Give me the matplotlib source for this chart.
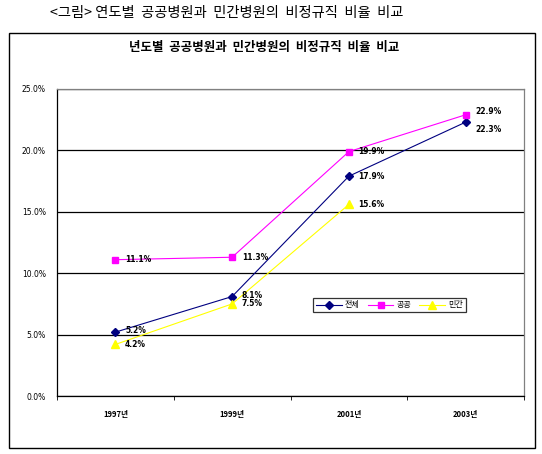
import matplotlib
matplotlib.use("Agg")
import matplotlib.pyplot as plt
from matplotlib.patches import Rectangle
import numpy as np

plt.rcParams["font.family"] = ["Noto Sans CJK KR", "DejaVu Sans"]

years = ["1997년", "1999년", "2001년", "2003년"]
total = [5.2, 8.1, 17.9, 22.3]
public = [11.1, 11.3, 19.9, 22.9]
private = [4.2, 7.5, 15.6]
series_names = ["전체", "공공", "민간"]

fig = plt.figure(figsize=(5.42, 4.54), dpi=100)

# outer caption and frame
fig.text(0.092, 0.972, "<그림> 연도별  공공병원과  민간병원의  비정규직  비율  비교",
         fontsize=10.3, ha="left", va="center")
fig.patches.append(Rectangle((9 / 542, 1 - 448 / 454), (535 - 9) / 542, (448 - 33) / 454,
                             transform=fig.transFigure, fill=False,
                             edgecolor="black", linewidth=1.0))
fig.text(0.487, 0.895, "년도별  공공병원과  민간병원의  비정규직  비율  비교",
         fontsize=9, fontweight="bold", ha="center", va="center")

ax = fig.add_axes([57 / 542, 1 - 396 / 454, (524 - 57) / 542, (396 - 89) / 454])
x = np.arange(len(years))

ax.plot(x, total, color="#000080", marker="D", markersize=4, linewidth=0.8, label=series_names[0])
ax.plot(x, public, color="#FF00FF", marker="s", markersize=5, linewidth=0.8, label=series_names[1])
ax.plot(x[:len(private)], private, color="#FFFF00", marker="^", markersize=6, linewidth=0.8,
        label=series_names[2])

lab_kw = dict(fontsize=5.5, fontweight="bold", family="DejaVu Sans", va="center")
for i, v in enumerate(total):
    dy = -0.6 if i == 3 else (0.1 if i < 2 else 0.0)
    ax.annotate(f"{v}%", (x[i], v + dy), xytext=(7, 0), textcoords="offset points", **lab_kw)
for i, v in enumerate(public):
    dy = 0.3 if i == 3 else 0.0
    ax.annotate(f"{v}%", (x[i], v + dy), xytext=(7, 0), textcoords="offset points", **lab_kw)
for i, v in enumerate(private):
    ax.annotate(f"{v}%", (x[i], v), xytext=(7, 0), textcoords="offset points", **lab_kw)

ax.set_xlim(-0.5, 3.5)
ax.set_ylim(0, 25)
ax.set_yticks(np.arange(0, 26, 5))
ax.set_yticklabels([f"{t:.1f}%" for t in np.arange(0, 26, 5)], fontsize=5.5, family="DejaVu Sans")
ax.yaxis.grid(True, color="black", linewidth=0.9)
ax.set_axisbelow(True)
ax.tick_params(axis="y", length=0, pad=8)

ax.set_xticks(x)
ax.set_xticklabels(years, fontsize=5.5, fontweight="bold")
ax.set_xticks(np.arange(-0.5, 4, 1), minor=True)
ax.tick_params(axis="x", which="major", length=0, pad=10)
ax.tick_params(axis="x", which="minor", length=3, direction="out", color="black")

ax.spines["top"].set_color("#808080")
ax.spines["right"].set_color("#808080")
for s in ax.spines.values():
    s.set_linewidth(0.9)

leg = ax.legend(loc="center left", bbox_to_anchor=((313 - 57) / 467, (396 - 305) / 307),
                ncol=3, fontsize=5.8, frameon=True, fancybox=False,
                handlelength=3.2, handletextpad=0.4, columnspacing=1.0,
                borderpad=0.35, borderaxespad=0)
leg.get_frame().set_edgecolor("black")
leg.get_frame().set_linewidth(0.9)

fig.savefig("out.png", dpi=100)
